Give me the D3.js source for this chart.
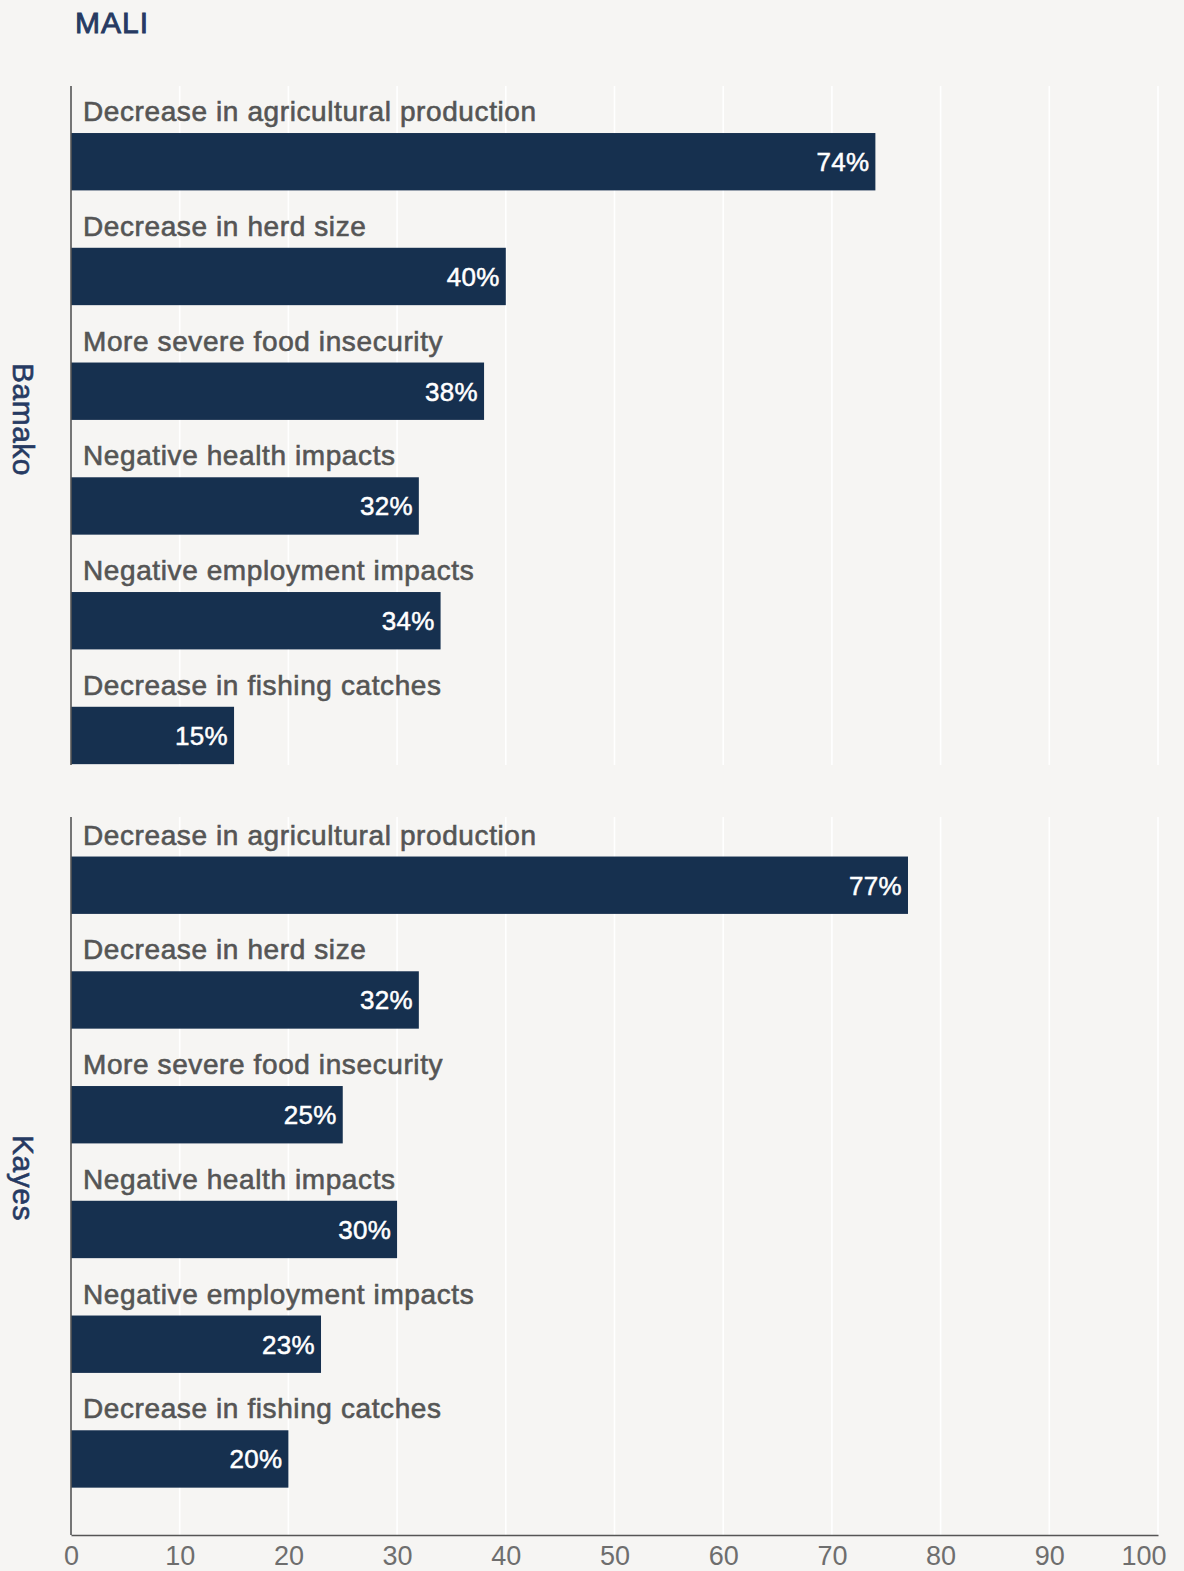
<!DOCTYPE html>
<html>
<head>
<meta charset="utf-8">
<script src="https://cdn.jsdelivr.net/npm/d3@7"></script>
<style>
  html, body { margin: 0; padding: 0; background: #f6f5f3; }
  svg { display: block; }
  text { font-family: "Liberation Sans", Arial, Helvetica, sans-serif; }
</style>
</head>
<body>
<svg id="chart" width="1184" height="1571"></svg>
<script>
const title = "MALI";
const categories = [
  "Decrease in agricultural production",
  "Decrease in herd size",
  "More severe food insecurity",
  "Negative health impacts",
  "Negative employment impacts",
  "Decrease in fishing catches"
];
const regions = ["Bamako", "Kayes"];
const bamakoValues = [74, 40, 38, 32, 34, 15];
const kayesValues = [77, 32, 25, 30, 23, 20];
const xTicks = [0, 10, 20, 30, 40, 50, 60, 70, 80, 90, 100];

const seriesByRegion = { Bamako: bamakoValues, Kayes: kayesValues };

const W = 1184, H = 1571;
const svg = d3.select("#chart");
svg.append("rect").attr("width", W).attr("height", H).attr("fill", "#f6f5f3");

const x = d3.scaleLinear().domain([0, 100]).range([71, 1158]);

// panel geometry
const panels = [
  { region: "Bamako", top: 86, bottom: 765, bandStart: 76, labelShift: -6 },
  { region: "Kayes", top: 817, bottom: 1535, bandStart: 799.5, labelShift: 2 }
];
const bandStep = 114.75;

const barColor = "#16304f";
const navy = "#263a62";

svg.append("text")
  .attr("x", 75).attr("y", 33)
  .attr("fill", navy)
  .attr("stroke", navy).attr("stroke-width", 0.9)
  .attr("font-size", 30)
  .attr("letter-spacing", 1)
  .text(title);

panels.forEach((p, pi) => {
  const y = d3.scaleBand()
    .domain(categories)
    .range([p.bandStart, p.bandStart + bandStep * categories.length])
    .paddingInner(0).paddingOuter(0);
  const bw = y.bandwidth();
  const barH = bw * 0.5;
  const barOffset = bw * 0.497;

  const g = svg.append("g");

  // gridlines
  g.selectAll("line.grid")
    .data(xTicks.filter(t => t > 0))
    .join("line")
    .attr("x1", d => x(d)).attr("x2", d => x(d))
    .attr("y1", p.top).attr("y2", p.bottom)
    .attr("stroke", "#ffffff").attr("stroke-width", 1.6);

  const vals = seriesByRegion[p.region];
  const data = categories.map((c, i) => ({ c, v: vals[i] }));

  g.selectAll("rect.bar")
    .data(data)
    .join("rect")
    .attr("x", x(0))
    .attr("y", d => y(d.c) + barOffset)
    .attr("width", d => x(d.v) - x(0))
    .attr("height", barH)
    .attr("fill", barColor);

  g.selectAll("text.cat")
    .data(data)
    .join("text")
    .attr("x", 83)
    .attr("y", d => y(d.c) + barOffset - 12)
    .attr("fill", "#555555")
    .attr("stroke", "#555555").attr("stroke-width", 0.6)
    .attr("font-size", 28)
    .attr("letter-spacing", 0.6)
    .text(d => d.c);

  g.selectAll("text.val")
    .data(data)
    .join("text")
    .attr("x", d => x(d.v) - 6)
    .attr("y", d => y(d.c) + barOffset + barH / 2 + 9.5)
    .attr("text-anchor", "end")
    .attr("fill", "#ffffff")
    .attr("stroke", "#ffffff").attr("stroke-width", 0.5)
    .attr("font-size", 26)
    .attr("letter-spacing", 0.3)
    .text(d => d.v + "%");

  // left axis line
  g.append("line")
    .attr("x1", x(0)).attr("x2", x(0))
    .attr("y1", p.top).attr("y2", p.bottom)
    .attr("stroke", "#555555").attr("stroke-width", 1.6);

  // facet label
  const cy = (p.top + p.bottom) / 2 + p.labelShift;
  g.append("text")
    .attr("transform", `translate(13,${cy}) rotate(90)`)
    .attr("text-anchor", "middle")
    .attr("fill", navy)
    .attr("stroke", navy).attr("stroke-width", 0.6)
    .attr("font-size", 30)
    .attr("letter-spacing", 0.5)
    .text(p.region);

  if (pi === panels.length - 1) {
    const axis = d3.axisBottom(x).tickValues(xTicks).tickSize(0).tickPadding(11).tickFormat(d3.format("d"));
    const ag = svg.append("g").attr("transform", `translate(0,${p.bottom})`).call(axis);
    ag.select(".domain").attr("stroke", "#555555").attr("stroke-width", 1.6);
    ag.selectAll("text")
      .attr("fill", "#6e6e6e")
      .attr("font-size", 27)
      .attr("font-family", "\"Liberation Sans\", Arial, sans-serif");
    // keep the last label inside the frame, as in the reference
    ag.selectAll(".tick").filter(d => d === 100).select("text")
      .attr("text-anchor", "end").attr("x", 1166 - x(100));
  }
});
</script>
</body>
</html>
